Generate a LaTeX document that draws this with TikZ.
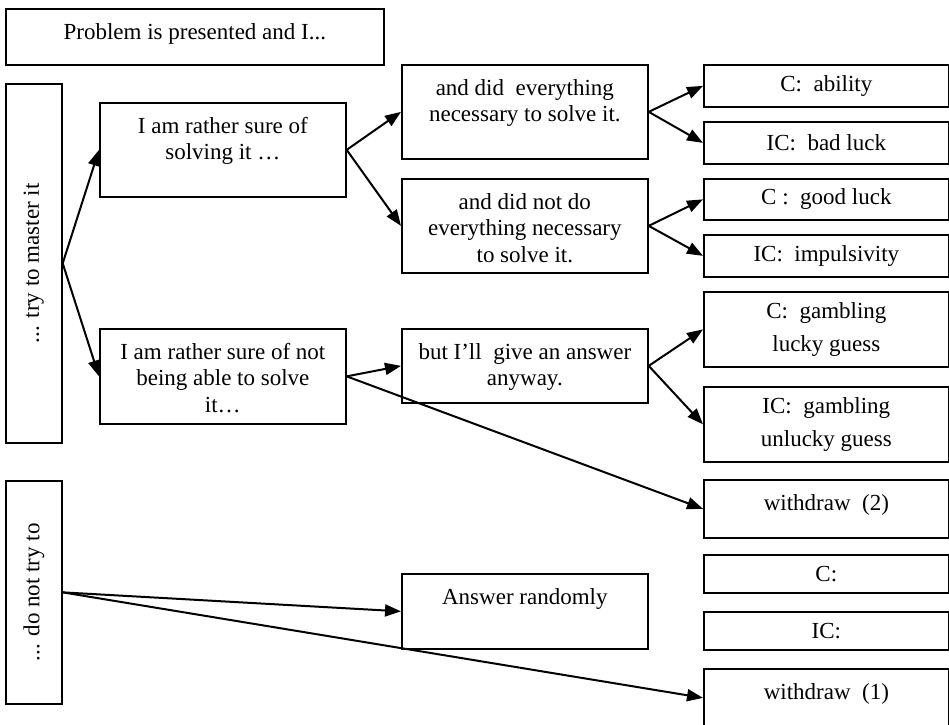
\documentclass[tikz,border=0pt]{standalone}
\usepackage{fontspec}
\setmainfont{Liberation Serif}
\usepackage{graphicx}
\usetikzlibrary{arrows.meta}

% text set at the top of a box: width, height, text
\newcommand{\toptext}[3]{\parbox[c][#2pt][t]{#1pt}{\centering\vspace*{12pt}\strut #3}}

\begin{document}
\begin{tikzpicture}[x=1pt,y=-1pt,
        font=\fontsize{23}{26.5}\selectfont,
        box/.style={draw, line width=1.7pt, inner sep=0pt, anchor=north west},
        endbox/.style={box, minimum width=245pt, align=center, font=\fontsize{23}{33}\selectfont},
        link/.style={line width=2pt, -{Triangle[length=16pt,width=12pt]}}]
        \useasboundingbox (0,0) rectangle (949,724);

        %left column
        \node[box] (prob) at (5,8) {\toptext{378}{56}{Problem is presented and I...}};
        \node[box, minimum width=56pt, minimum height=359pt] (try) at (5,83) {\rotatebox{90}{... try to master it}};
        \node[box, minimum width=56pt, minimum height=223pt] (dont) at (5,480) {\rotatebox{90}{... do not try to}};

        %second column
        \node[box] (sure) at (99,102) {\toptext{246}{94}{I am rather sure of\\solving it …}};
        \node[box] (notsure) at (99,328) {\toptext{246}{95}{I am rather sure of not\\being able to solve\\it…}};

        %third column
        \node[box] (did) at (401,64) {\toptext{246}{94}{and did~ everything\\necessary to solve it.}};
        \node[box] (didnot) at (401,178) {\toptext{246}{94}{and did not do\\everything necessary\\to solve it.}};
        \node[box] (anyway) at (401,328) {\toptext{246}{74}{but I’ll~ give an answer\\anyway.}};
        \node[box] (random) at (401,573) {\toptext{246}{75}{Answer randomly}};

        %outcomes
        \node[endbox, minimum height=42pt] (ability) at (703,64) {C:~ ability};
        \node[endbox, minimum height=42pt] (badluck) at (703,121) {IC:~ bad luck};
        \node[endbox, minimum height=41pt] (goodluck) at (703,178) {C :~ good luck};
        \node[endbox, minimum height=42pt] (impuls) at (703,234) {IC:~ impulsivity};
        \node[endbox, minimum height=75pt] (gamble) at (703,291) {C:~ gambling\\lucky guess};
        \node[endbox, minimum height=75pt] (unlucky) at (703,386) {IC:~ gambling\\unlucky guess};
        \node[box] (wdtwo) at (703,479) {\toptext{245}{58}{withdraw~ (2)}};
        \node[endbox, minimum height=38pt] (conly) at (703,554) {C:};
        \node[endbox, minimum height=38pt] (iconly) at (703,611) {IC:};
        \node[box] (wdone) at (703,668) {\toptext{245}{58}{withdraw~ (1)}};

        % arrows
        \draw[link] (try.east) -- (sure.west);
        \draw[link] (try.east) -- (notsure.west);
        \draw[link] (sure.east) -- (did.west);
        \draw[link] (sure.east) -- (didnot.west);
        \draw[link] (did.east) -- (ability.west);
        \draw[link] (did.east) -- (badluck.west);
        \draw[link] (didnot.east) -- (goodluck.west);
        \draw[link] (didnot.east) -- (impuls.west);
        \draw[link] (notsure.east) -- (anyway.west);
        \draw[link] (notsure.east) -- (wdtwo.west);
        \draw[link] (anyway.east) -- (gamble.west);
        \draw[link] (anyway.east) -- (unlucky.west);
        \draw[link] (dont.east) -- (random.west);
        \draw[link] (dont.east) -- (wdone.west);

\end{tikzpicture}
\end{document}
